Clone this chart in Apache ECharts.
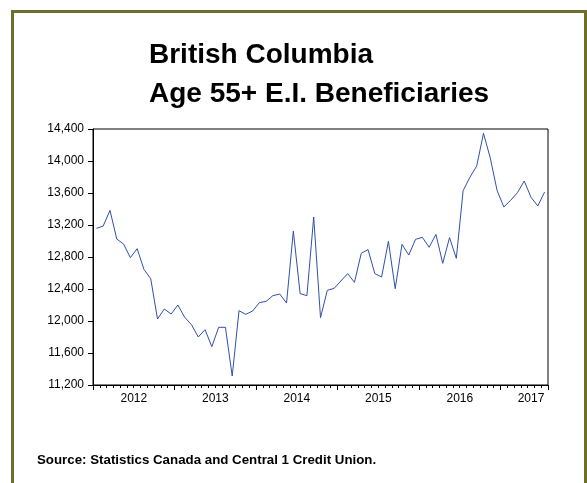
<!DOCTYPE html>
<html>
<head>
<meta charset="utf-8">
<script src="https://cdn.jsdelivr.net/npm/echarts@6/dist/echarts.min.js"></script>
<style>
html,body{margin:0;padding:0;background:#fff;}
#chart{width:587px;height:483px;}
</style>
</head>
<body>
<div id="chart"></div>
<script>
// ---- data ----
const titleLines = ['British Columbia', 'Age 55+ E.I. Beneficiaries'];
const sourceText = 'Source: Statistics Canada and Central 1 Credit Union.';
const startYear = 2012;
const values = [13158, 13187, 13383, 13025, 12962, 12792, 12904, 12646, 12529, 12025,
  12150, 12087, 12200, 12046, 11954, 11800, 11892, 11679, 11921, 11921,
  11312, 12129, 12083, 12125, 12229, 12246, 12317, 12337, 12225, 13125,
  12342, 12317, 13300, 12042, 12383, 12408, 12500, 12592, 12483, 12846,
  12892, 12592, 12550, 12996, 12404, 12958, 12825, 13021, 13046, 12921,
  13083, 12721, 13042, 12783, 13629, 13796, 13937, 14346, 14037, 13633,
  13425, 13508, 13604, 13750, 13546, 13438, 13613];
const yearLabels = ['2012', '2013', '2014', '2015', '2016', '2017'];
const yMin = 11200, yMax = 14400, yStep = 400;

const months = values.map((v, i) => {
  const y = startYear + Math.floor(i / 12);
  const m = (i % 12) + 1;
  return y + '-' + (m < 10 ? '0' + m : m);
});

const FONT = "'Liberation Sans', Arial, sans-serif";
const chart = echarts.init(document.getElementById('chart'), null, {renderer: 'canvas'});

function labelShown(i) {
  const yr = Math.floor(i / 12);
  const last = Math.floor((values.length - 1) / 12);
  if (yr < last) return i % 12 === 5;
  return i === 64;
}

chart.setOption({
  animation: false,
  backgroundColor: '#fff',
  title: {
    text: titleLines.join('\n'),
    left: 144,
    top: 31,
    textStyle: {fontFamily: FONT, fontSize: 28, fontWeight: 'bold', color: '#000', lineHeight: 39}
  },
  graphic: [
    {type: 'rect', shape: {x: 12.5, y: 11.5, width: 573, height: 500},
      style: {fill: null, stroke: '#6e6d2c', lineWidth: 3}, silent: true, z: 100},
    {type: 'text', left: 37, top: 454,
      style: {text: sourceText, font: 'bold 13.3px ' + FONT, fill: '#000'}}
  ],
  grid: {left: 93, top: 129, right: 39, bottom: 98, show: true, borderColor: '#000', borderWidth: 1,
    backgroundColor: 'transparent'},
  xAxis: [
    {
      type: 'category', data: months, boundaryGap: true, position: 'bottom',
      axisLine: {show: true, lineStyle: {color: '#000', width: 1}},
      axisTick: {show: true, interval: 0, length: 3, lineStyle: {color: '#000'}},
      axisLabel: {
        show: true, interval: (i) => labelShown(i), margin: 8,
        formatter: (val, i) => {
          const y = val.slice(0, 4);
          return i < 60 ? '{a|' + y + '}' : '{b|' + y + '}';
        },
        rich: {
          a: {fontFamily: FONT, fontSize: 12, color: '#000', padding: [0, 0, 0, 7]},
          b: {fontFamily: FONT, fontSize: 12, color: '#000'}
        }
      },
      splitLine: {show: false}
    },
    {
      type: 'category', data: months, boundaryGap: true, position: 'bottom', gridIndex: 0,
      axisLine: {show: false},
      axisTick: {show: true, interval: (i) => i % 12 === 0, length: 5, lineStyle: {color: '#000'}},
      axisLabel: {show: false},
      splitLine: {show: false}
    }
  ],
  yAxis: {
    type: 'value', min: yMin, max: yMax, interval: yStep,
    axisLine: {show: true, lineStyle: {color: '#000', width: 1}},
    axisTick: {show: true, length: 5, lineStyle: {color: '#000'}},
    axisLabel: {
      margin: 9, fontFamily: FONT, fontSize: 12, color: '#000',
      formatter: (v) => v.toLocaleString('en-US')
    },
    splitLine: {show: false}
  },
  series: [{
    type: 'line', data: values, xAxisIndex: 0, yAxisIndex: 0,
    symbol: 'none', smooth: false,
    lineStyle: {color: '#3150ab', width: 1}
  }]
});
</script>
</body>
</html>
